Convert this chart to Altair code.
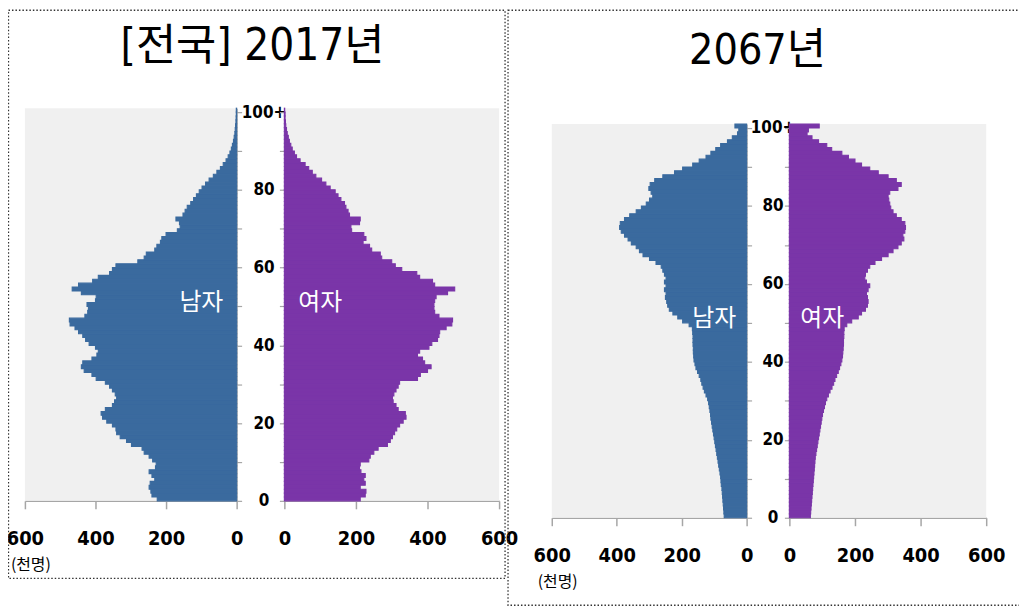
import altair as alt
import pandas as pd

# ---------------- data (thousand persons, single-year ages 0..100+) ----------------
ages = list(range(101))

male_2017 = [225, 240, 243, 248, 245, 232, 240, 248, 230, 228,
             238, 248, 262, 268, 298, 312, 330, 340, 342, 352,
             368, 380, 384, 372, 352, 346, 340, 344, 352, 360,
             372, 398, 410, 432, 440, 436, 410, 396, 392, 400,
             418, 428, 436, 448, 458, 472, 474, 430, 422, 420,
             424, 400, 398, 440, 466, 448, 408, 392, 360, 352,
             342, 280, 262, 256, 232, 226, 216, 212, 200, 168,
             160, 162, 172, 152, 146, 140, 130, 122, 114, 106,
             98, 88, 78, 66, 56, 46, 38, 30, 24, 19,
             15, 12, 9, 7, 5, 4, 3, 2, 1.5, 1, 1]

female_2017 = [212, 226, 228, 212, 226, 222, 226, 214, 210, 212,
               236, 240, 250, 262, 288, 296, 302, 308, 314, 322,
               332, 340, 338, 318, 312, 304, 302, 306, 312, 318,
               322, 372, 380, 400, 410, 392, 386, 372, 378, 404,
               412, 428, 432, 434, 452, 468, 470, 432, 420, 418,
               418, 420, 424, 456, 476, 420, 414, 378, 370, 328,
               310, 300, 272, 268, 244, 238, 220, 228, 222, 188,
               186, 210, 212, 182, 178, 172, 168, 158, 150, 142,
               128, 116, 104, 88, 78, 68, 58, 44, 34, 28,
               22, 18, 14, 11, 8, 6, 4, 3, 2, 2, 1]

male_2067 = [69, 70, 71, 72, 73, 74, 75, 76, 78, 79,
             80, 82, 84, 86, 88, 90, 92, 94, 96, 98,
             100, 102, 104, 106, 108, 110, 111, 113, 115, 117,
             120, 125, 130, 134, 138, 141, 146, 151, 156, 159,
             162, 163, 164, 164, 165, 165, 165, 166, 167, 177,
             197, 212, 227, 238, 243, 246, 250, 248, 253, 248,
             253, 248, 253, 258, 263, 279, 299, 319, 330, 340,
             355, 365, 376, 386, 391, 389, 376, 360, 340, 324,
             309, 299, 289, 294, 301, 297, 283, 258, 222, 197,
             166, 146, 125, 110, 95, 80, 59, 44, 28, 24, 36]

female_2067 = [64, 65, 66, 67, 68, 69, 70, 71, 72, 73,
               74, 75, 76, 77, 78, 79, 81, 83, 85, 87,
               89, 91, 93, 95, 97, 99, 101, 104, 107, 110,
               114, 119, 124, 130, 135, 139, 144, 149, 153, 157,
               160, 162, 163, 164, 165, 165, 166, 166, 167, 175,
               190, 210, 220, 232, 238, 240, 238, 235, 240, 245,
               235, 230, 232, 238, 245, 261, 281, 301, 316, 331,
               341, 349, 346, 352, 354, 352, 341, 326, 316, 309,
               306, 303, 301, 306, 331, 341, 326, 301, 271, 245,
               220, 200, 180, 160, 129, 114, 89, 69, 54, 58, 91]

x_ticks = [0, 200, 400, 600]
age_ticks = list(range(0, 101, 10))
titles = ["[전국] 2017년", "2067년"]
sex_labels = ["남자", "여자"]
unit_label = "(천명)"
label_pos = [100, 51]          # where the 남자/여자 labels sit (value, age)

# ---------------- styling ----------------
BLUE = "#3A6A9E"
PURPLE = "#7A35A8"
BG = "#F0F0F0"
AXIS_GRAY = "#A6A6A6"
NARROW = "Liberation Sans Narrow, Arial Narrow, DejaVu Sans Condensed, Liberation Sans, Noto Sans CJK KR, sans-serif"
KFONT = "Noto Sans CJK KR, Noto Sans, sans-serif"

W, H = 1017, 600

GEOM = {
    "2017": dict(male=[230, 17], female=[278, 494], y=[494, 99], xoff=-106,
                 male_yoff=230 - W, female_yoff=-278, lab_pad=22),
    "2067": dict(male=[743, 547], female=[786, 984], y=[511, 115], xoff=-89,
                 male_yoff=743 - W, female_yoff=-786, lab_pad=21),
}


def xscale(r):
    return alt.Scale(domain=[0, 600], range=r, nice=False, zero=False)


def yscale(r):
    return alt.Scale(domain=[0, 101], range=r, nice=False, zero=False)


def x_axis(offset):
    return alt.Axis(orient="bottom", offset=offset, values=x_ticks, tickSize=8,
                    tickColor=AXIS_GRAY, domainColor=AXIS_GRAY, tickWidth=1.5,
                    domainWidth=1.5, labelFont=NARROW, labelFontSize=20,
                    labelFontWeight="bold", labelColor="black", labelPadding=20,
                    labelFlush=False, labelOverlap=False, grid=False, title=None,
                    format="d")


def y_axis(orient, offset, pad, labels):
    kw = dict(orient=orient, offset=offset, values=age_ticks, tickSize=5,
              tickColor=AXIS_GRAY, domainColor=AXIS_GRAY, tickWidth=1.2,
              domainWidth=1.2, grid=False, title=None, labels=labels)
    if labels:
        kw.update(labelExpr="datum.value == 100 ? '100+' : (datum.value % 20 == 0 ? datum.label : '')",
                  labelAlign="center", labelBaseline="middle", labelPadding=pad,
                  labelFont=NARROW, labelFontSize=17, labelFontWeight="bold",
                  labelColor="black", labelOverlap=False, labelFlush=False)
    return alt.Axis(**kw)


def bg_layer(xr, yr):
    df = pd.DataFrame({"v0": [0], "v1": [600], "a0": [0], "a1": [101]})
    return alt.Chart(df).mark_rect(color=BG).encode(
        x=alt.X("v1:Q", scale=xscale(xr), axis=None),
        x2=alt.X2("v0"),
        y=alt.Y("a0:Q", scale=yscale(yr), axis=None),
        y2=alt.Y2("a1"),
    )


def bar_layer(values, color, xr, yr, xaxis, yaxis):
    df = pd.DataFrame({"age": ages, "pop": values})
    return alt.Chart(df).transform_calculate(
        age_top="datum.age + 1", base="0"
    ).mark_rect(color=color, stroke=color, strokeWidth=1.1).encode(
        x=alt.X("pop:Q", scale=xscale(xr), axis=xaxis),
        x2=alt.X2("base"),
        y=alt.Y("age:Q", scale=yscale(yr), axis=yaxis),
        y2=alt.Y2("age_top"),
    )


def sex_text(txt, xr, yr):
    df = pd.DataFrame({"pop": [label_pos[0]], "age": [label_pos[1]], "t": [txt]})
    return alt.Chart(df).mark_text(color="white", font=KFONT, fontSize=24,
                                   align="center", baseline="middle").encode(
        x=alt.X("pop:Q", scale=xscale(xr), axis=None),
        y=alt.Y("age:Q", scale=yscale(yr), axis=None),
        text="t:N",
    )


def free_text(txt, px, py, size, font):
    df = pd.DataFrame({"t": [txt]})
    return alt.Chart(df).mark_text(font=font, fontSize=size, color="black",
                                   align="center", baseline="middle").encode(
        x=alt.value(px), y=alt.value(py), text="t:N")


def frame(x0, x1, y0, y1):
    df = pd.DataFrame({"k": [0]})
    return alt.Chart(df).mark_rect(fillOpacity=0, stroke="#333333", strokeWidth=1.3,
                                   strokeDash=[1.5, 2]).encode(
        x=alt.value(x0), x2=alt.value(x1), y=alt.value(y0), y2=alt.value(y1))


layers = []
for year, male, female in (("2017", male_2017, female_2017), ("2067", male_2067, female_2067)):
    g = GEOM[year]
    layers.append(bg_layer(g["male"], g["y"]))
    layers.append(bg_layer(g["female"], g["y"]))
    layers.append(bar_layer(male, BLUE, g["male"], g["y"], x_axis(g["xoff"]),
                            y_axis("right", g["male_yoff"], g["lab_pad"], True)))
    layers.append(bar_layer(female, PURPLE, g["female"], g["y"], x_axis(g["xoff"]),
                            y_axis("left", g["female_yoff"], 0, False)))
    layers.append(sex_text(sex_labels[0], g["male"], g["y"]))
    layers.append(sex_text(sex_labels[1], g["female"], g["y"]))

layers.append(free_text(titles[0], 246, 38, 44, NARROW))
layers.append(free_text(titles[1], 754, 42, 43, NARROW))
layers.append(free_text(unit_label, 23, 559, 16, KFONT))
layers.append(free_text(unit_label, 553, 576, 16, KFONT))
layers.append(frame(0.5, 500, 0.5, 572))
layers.append(frame(503, 1030, 0.5, 599))

chart = alt.layer(*layers).resolve_scale(
    x="independent", y="independent"
).resolve_axis(
    x="independent", y="independent"
).properties(
    width=W, height=H, padding=0,
    autosize=alt.AutoSizeParams(type="none"),
).configure_view(stroke=None)

chart.save("out.html", embed_options={"renderer": "svg", "actions": False})
